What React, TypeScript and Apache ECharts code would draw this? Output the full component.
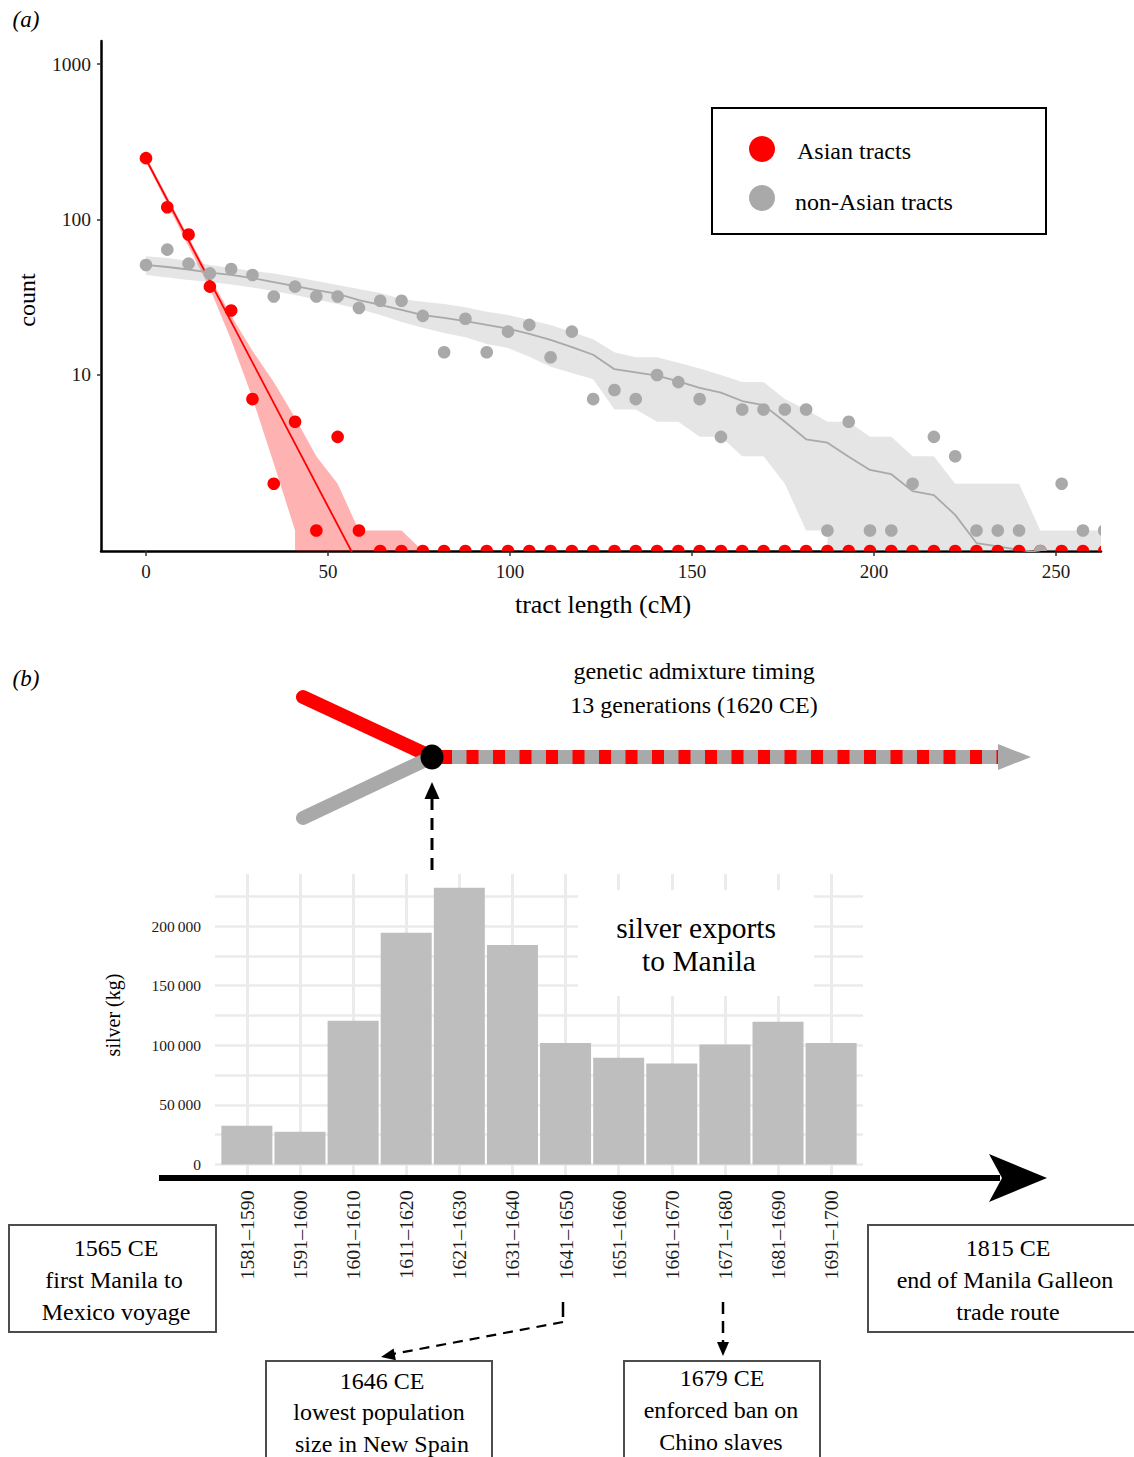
import React, { useEffect, useRef } from 'react';
import * as echarts from 'echarts';

const FONT = "'Liberation Serif', 'Times New Roman', serif";

// ---------- (a) tract length distribution ----------
const binX = [0, 5.85, 11.7, 17.55, 23.4, 29.25, 35.1, 40.95, 46.8, 52.65, 58.5, 64.35, 70.2, 76.05, 81.9, 87.75, 93.6, 99.45, 105.3, 111.15, 117, 122.85, 128.7, 134.55, 140.4, 146.25, 152.1, 157.95, 163.8, 169.65, 175.5, 181.35, 187.2, 193.05, 198.9, 204.75, 210.6, 216.45, 222.3, 228.15, 234, 239.85, 245.7, 251.55, 257.4, 263.25];
const asianCount = [248, 120, 80, 37, 26, 7, 2, 5, 1, 4, 1, 0, 0, 0, 0, 0, 0, 0, 0, 0, 0, 0, 0, 0, 0, 0, 0, 0, 0, 0, 0, 0, 0, 0, 0, 0, 0, 0, 0, 0, 0, 0, 0, 0, 0, 0];
const nonAsianCount = [51, 64, 52, 45, 48, 44, 32, 37, 32, 32, 27, 30, 30, 24, 14, 23, 14, 19, 21, 13, 19, 7, 8, 7, 10, 9, 7, 4, 6, 6, 6, 6, 1, 5, 1, 1, 2, 4, 3, 1, 1, 1, 0, 2, 1, 1];
const asianFitX = [0, 60];
const asianFitY = [244, 0.51];
const nonAsianFit = [51.1, 49.5, 47.7, 45.6, 44.0, 42.0, 39.6, 37.3, 35.2, 33.2, 30.3, 28.2, 26.2, 24.3, 23.3, 22.2, 21.0, 19.9, 18.4, 16.8, 15.1, 13.5, 10.9, 10.4, 9.9, 9.1, 8.25, 7.7, 6.8, 6.4, 5.0, 3.86, 3.67, 2.98, 2.45, 2.3, 1.79, 1.69, 1.26, 0.83, 0.79, 0.75, 0.72];
const asianBandHi = [254, 140, 77, 43, 24, 14.3, 9, 5.3, 3, 2, 1, 1, 1, 0];
const asianBandLo = [234, 126, 67, 36, 16.8, 7.1, 2.7, 1];
const nonAsianBandHi = [58, 56.5, 54, 51, 48.8, 46.7, 45, 42.7, 40.2, 37.9, 35.7, 33.7, 30.8, 29.6, 28.6, 27.3, 25.5, 24.3, 22.6, 21, 18.9, 17, 14, 13, 13, 12, 11, 10, 9, 9, 7, 6, 5, 5, 4, 4, 3, 3, 2, 2, 2, 2, 1, 1, 1, 1];
const nonAsianBandLo = [44, 42.4, 40.8, 39.6, 38.2, 36.5, 34.7, 32.7, 30.6, 28.6, 26.6, 24.3, 21.9, 20.1, 18.6, 17.5, 15.8, 14.9, 13.1, 11.3, 10.3, 9.4, 6, 6, 5, 5, 4, 4, 3, 3, 2, 1, 1];
const lengthTicks = [0, 50, 100, 150, 200, 250];
const countTicks = [10, 100, 1000];
const COUNT_MIN = 0.738;
const COUNT_MAX = 1406;

// ---------- (b) silver exports ----------
const decades = ['1581–1590', '1591–1600', '1601–1610', '1611–1620', '1621–1630', '1631–1640', '1641–1650', '1651–1660', '1661–1670', '1671–1680', '1681–1690', '1691–1700'];
const silverKg = [32600, 27600, 120500, 194400, 232000, 184000, 102000, 89500, 84800, 100700, 119700, 102000];
const silverLabelTicks = [0, 50000, 100000, 150000, 200000];
const silverGridTicks = [0, 25000, 50000, 75000, 100000, 125000, 150000, 175000, 200000, 225000];

const RED = '#FF0000';
const GREY = '#A9A9A9';

function plotY(v: number) {
  return v > 0 ? v : COUNT_MIN;
}

function bandPolygon(hi: number[], lo: number[]) {
  const upper = hi.map((v, i) => [binX[i], v]);
  const lastHi = hi.length - 1;
  if (hi[lastHi] > 0) upper.push([binX[lastHi], 0]);
  const lower = lo.map((v, i) => [binX[i], v]);
  lower.push([binX[lo.length - 1], 0]);
  return upper.concat(lower.reverse());
}

function bandSeries(poly: number[][], color: string, z: number) {
  return {
    type: 'custom',
    xAxisIndex: 0,
    yAxisIndex: 0,
    clip: true,
    z,
    silent: true,
    data: [[0, 10]],
    renderItem: (params: any, api: any) => {
      const pts = poly.map((p) => api.coord([p[0], plotY(p[1])]));
      return { type: 'polygon', shape: { points: pts }, style: { fill: color } };
    },
  };
}

function pointSeries(counts: number[], color: string, z: number) {
  return {
    type: 'custom',
    xAxisIndex: 0,
    yAxisIndex: 0,
    clip: true,
    z,
    data: counts.map((c, i) => [binX[i], plotY(c)]),
    renderItem: (params: any, api: any) => {
      const p = api.coord([api.value(0), api.value(1)]);
      return { type: 'circle', shape: { cx: p[0], cy: p[1], r: 6.3 }, style: { fill: color } };
    },
  };
}

function arrowHead(tx: number, ty: number, dx: number, dy: number, len: number, half: number) {
  const l = Math.hypot(dx, dy);
  const ux = dx / l;
  const uy = dy / l;
  const bx = tx - ux * len;
  const by = ty - uy * len;
  return [[tx, ty], [bx - uy * half, by + ux * half], [bx + uy * half, by - ux * half]];
}

function txt(text: string, x: number, y: number, size: number, extra: any = {}, rotation = 0) {
  return {
    type: 'text',
    x,
    y,
    z: 110,
    rotation,
    style: {
      text,
      fontSize: size,
      fontFamily: FONT,
      fill: '#000',
      align: 'center',
      verticalAlign: 'middle',
      ...extra,
    },
  };
}

function box(x: number, y: number, w: number, h: number) {
  return {
    type: 'rect',
    z: 100,
    shape: { x, y, width: w, height: h },
    style: { fill: '#fff', stroke: '#4d4d4d', lineWidth: 2 },
  };
}

function seg(x1: number, y1: number, x2: number, y2: number, style: any) {
  return { type: 'line', z: 100, shape: { x1, y1, x2, y2 }, style };
}

function poly(points: number[][], fill: string) {
  return { type: 'polygon', z: 101, shape: { points }, style: { fill } };
}

function fmtThousands(v: number) {
  return String(v).replace(/\B(?=(\d{3})+(?!\d))/g, '\u2009');
}

export default function App() {
  const ref = useRef<HTMLDivElement>(null);

  useEffect(() => {
    if (!ref.current) return;
    const chart = echarts.init(ref.current, null, { renderer: 'svg' });

    const BOX_FS = 24;
    const graphic: any[] = [
      // panel labels and axis titles for (a)
      txt('(a)', 26, 19, 23, { fontStyle: 'italic' }),
      txt('count', 27, 300, 24, {}, Math.PI / 2),
      txt('tract length (cM)', 603, 604, 26),
      // legend
      {
        type: 'rect', z: 100,
        shape: { x: 712, y: 108, width: 334, height: 126 },
        style: { fill: '#fff', stroke: '#000', lineWidth: 2 },
      },
      { type: 'circle', z: 101, shape: { cx: 762, cy: 149, r: 13 }, style: { fill: RED } },
      { type: 'circle', z: 101, shape: { cx: 762, cy: 198, r: 13 }, style: { fill: GREY } },
      txt('Asian tracts', 797, 151, 24, { align: 'left' }),
      txt('non-Asian tracts', 795, 202, 24, { align: 'left' }),

      // (b) diagram
      txt('(b)', 26, 678, 23, { fontStyle: 'italic' }),
      txt('genetic admixture timing', 694, 671, 24),
      txt('13 generations (1620 CE)', 694, 705, 24),
      seg(303, 697, 432, 757, { stroke: RED, lineWidth: 14, lineCap: 'round' }),
      seg(303, 818, 432, 757, { stroke: GREY, lineWidth: 14, lineCap: 'round' }),
      seg(432, 757, 999, 757, { stroke: GREY, lineWidth: 14 }),
      seg(440, 757, 999, 757, { stroke: RED, lineWidth: 14, lineDash: [12, 14.5] }),
      poly([[998, 744], [1031, 757], [998, 770]], GREY),
      { type: 'ellipse', z: 102, shape: { cx: 432, cy: 757, rx: 11.5, ry: 12.5 }, style: { fill: '#000' } },
      seg(432, 870, 432, 798, { stroke: '#000', lineWidth: 3, lineDash: [12, 8] }),
      poly(arrowHead(432, 782, 0, -1, 17, 7.5), '#000'),

      // silver exports label
      {
        type: 'rect', z: 100,
        shape: { x: 578, y: 890, width: 236, height: 106, r: 8 },
        style: { fill: '#fff' },
      },
      txt('silver exports', 696, 928, 29.5),
      txt('to Manila', 699, 961, 29.5),
      txt('silver (kg)', 113, 1015, 20, {}, Math.PI / 2),

      // time axis arrow
      seg(159, 1178, 1000, 1178, { stroke: '#000', lineWidth: 6 }),
      poly([[1047, 1178], [989, 1154], [1002, 1178], [989, 1202]], '#000'),

      // annotation boxes
      box(9, 1225, 207, 107),
      txt('1565 CE', 116, 1248, BOX_FS),
      txt('first Manila to', 114, 1280, BOX_FS),
      txt('Mexico voyage', 116, 1312, BOX_FS),
      box(868, 1225, 276, 107),
      txt('1815 CE', 1008, 1248, BOX_FS),
      txt('end of Manila Galleon', 1005, 1280, BOX_FS),
      txt('trade route', 1008, 1312, BOX_FS),
      box(266, 1361, 226, 110),
      txt('1646 CE', 382, 1381, BOX_FS),
      txt('lowest population', 379, 1412, BOX_FS),
      txt('size in New Spain', 382, 1444, BOX_FS),
      box(624, 1361, 196, 110),
      txt('1679 CE', 722, 1378, BOX_FS),
      txt('enforced ban on', 721, 1410, BOX_FS),
      txt('Chino slaves', 721, 1442, BOX_FS),

      // dashed annotation arrows
      seg(563, 1302, 563, 1317, { stroke: '#000', lineWidth: 2.5 }),
      seg(563, 1322, 393, 1354, { stroke: '#000', lineWidth: 2.2, lineDash: [10, 7] }),
      poly(arrowHead(381, 1357, -182, 35, 14, 6), '#000'),
      seg(723, 1302, 723, 1343, { stroke: '#000', lineWidth: 2.5, lineDash: [12, 7] }),
      poly(arrowHead(723, 1356, 0, 1, 14, 6), '#000'),
    ];

    const option: any = {
      animation: false,
      backgroundColor: '#fff',
      textStyle: { fontFamily: FONT },
      grid: [
        { left: 101, top: 41, width: 1000, height: 510, containLabel: false },
        { left: 215, top: 874, width: 648, height: 304.4, containLabel: false },
      ],
      xAxis: [
        {
          type: 'value',
          gridIndex: 0,
          min: -12.36,
          max: 262.36,
          axisLine: { show: true, onZero: false, lineStyle: { color: '#000', width: 2.5 } },
          axisTick: { show: true, length: 5, customValues: lengthTicks, lineStyle: { color: '#333', width: 1.5 } },
          axisLabel: { customValues: lengthTicks, fontSize: 19, color: '#1a1a1a', margin: 11, fontFamily: FONT },
          splitLine: { show: false },
        },
        {
          type: 'value',
          gridIndex: 1,
          min: 0.4,
          max: 12.6,
          axisLine: { show: false, onZero: false },
          axisTick: { show: false, customValues: decades.map((_, i) => i + 1) },
          axisLabel: {
            customValues: decades.map((_, i) => i + 1),
            rotate: 90,
            margin: 12,
            fontSize: 19.8,
            color: '#1a1a1a',
            fontFamily: FONT,
            formatter: (v: number) => decades[Math.round(v) - 1] ?? '',
          },
          splitLine: { show: true, lineStyle: { color: '#EBEBEB', width: 3 } },
        },
      ],
      yAxis: [
        {
          type: 'log',
          logBase: 10,
          gridIndex: 0,
          min: COUNT_MIN,
          max: COUNT_MAX,
          axisLine: { show: true, onZero: false, lineStyle: { color: '#000', width: 2.5 } },
          axisTick: { show: true, length: 4, customValues: countTicks, lineStyle: { color: '#333', width: 1.5 } },
          axisLabel: {
            customValues: countTicks,
            fontSize: 19.5,
            color: '#1a1a1a',
            margin: 10,
            fontFamily: FONT,
            formatter: (v: number) => String(Math.round(v)),
          },
          splitLine: { show: false },
        },
        {
          type: 'value',
          gridIndex: 1,
          min: -11600,
          max: 243600,
          axisLine: { show: false, onZero: false },
          axisTick: { show: false, customValues: silverGridTicks },
          axisLabel: {
            customValues: silverLabelTicks,
            fontSize: 15.5,
            color: '#1a1a1a',
            margin: 14,
            fontFamily: FONT,
            formatter: (v: number) => fmtThousands(v),
          },
          splitLine: { show: true, lineStyle: { color: '#EBEBEB', width: 2.5 } },
        },
      ],
      series: [
        bandSeries(bandPolygon(asianBandHi, asianBandLo), 'rgba(255,0,0,0.3)', 1),
        bandSeries(bandPolygon(nonAsianBandHi, nonAsianBandLo), 'rgba(169,169,169,0.3)', 2),
        {
          type: 'line',
          xAxisIndex: 0,
          yAxisIndex: 0,
          z: 3,
          clip: true,
          showSymbol: false,
          silent: true,
          data: asianFitX.map((x, i) => [x, asianFitY[i]]),
          lineStyle: { color: RED, width: 1.8 },
        },
        {
          type: 'line',
          xAxisIndex: 0,
          yAxisIndex: 0,
          z: 3,
          clip: true,
          showSymbol: false,
          silent: true,
          data: nonAsianFit.map((v, i) => [binX[i], v]),
          lineStyle: { color: GREY, width: 1.8 },
        },
        pointSeries(asianCount, RED, 4),
        pointSeries(nonAsianCount, GREY, 5),
        {
          type: 'bar',
          xAxisIndex: 1,
          yAxisIndex: 1,
          barWidth: 51,
          data: silverKg.map((v, i) => [i + 1, v]),
          itemStyle: { color: '#BEBEBE' },
        },
      ],
      graphic,
    };

    chart.setOption(option);
    return () => chart.dispose();
  }, []);

  return (
    <div
      ref={ref}
      style={{ position: 'absolute', left: 0, top: 0, width: 1134, height: 1457, background: '#fff' }}
    />
  );
}
